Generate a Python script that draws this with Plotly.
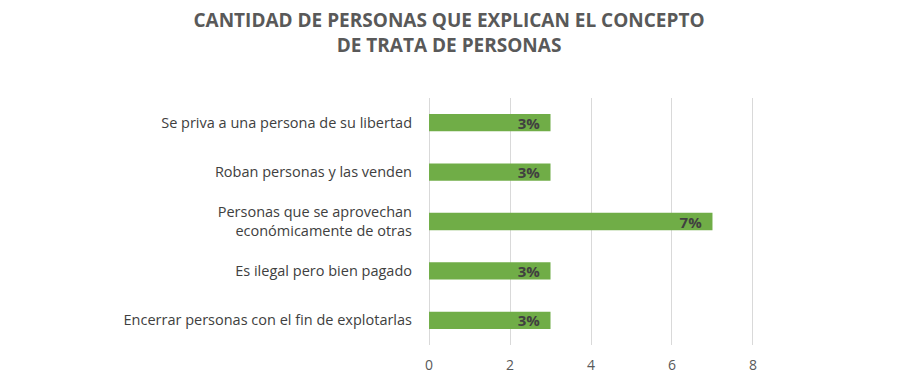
import plotly.graph_objects as go

categories = [
    "Se priva a una persona de su libertad",
    "Roban personas y las venden",
    "Personas que se aprovechan<br>económicamente de otras",
    "Es ilegal pero bien pagado",
    "Encerrar personas con el fin de explotarlas",
]
values = [3, 3, 7, 3, 3]
x_ticks = [0, 2, 4, 6, 8]

fig = go.Figure(go.Bar(
    y=categories,
    x=values,
    orientation="h",
    marker=dict(color="#70AD47", line=dict(width=0)),
    width=0.35,
    text=[f"{v}%\u00a0\u00a0" for v in values],
    textposition="inside",
    insidetextanchor="end",
    constraintext="none",
    textfont=dict(family="Open Sans", size=15, color="#404040", weight="bold"),
    textangle=0,
))

fig.update_layout(
    width=900, height=386,
    margin=dict(l=419, r=153, t=90, b=49, autoexpand=False),
    paper_bgcolor="white", plot_bgcolor="white",
    title=dict(
        text="CANTIDAD DE PERSONAS QUE EXPLICAN EL CONCEPTO<br>DE TRATA DE PERSONAS",
        x=0.49, xref="container", xanchor="center", y=0.95, yanchor="top",
        font=dict(family="Open Sans", size=19, color="#595959", weight="bold"),
    ),
    xaxis=dict(
        range=[-0.05, 8.05], tickvals=x_ticks, showgrid=True, gridcolor="#D9D9D9", gridwidth=1,
        zeroline=False, showline=False, ticks="", automargin=False,
        ticklabelstandoff=10,
        tickfont=dict(family="Open Sans", size=14, color="#595959"),
    ),
    yaxis=dict(
        autorange="reversed", showgrid=False, ticks="", showline=False,
        automargin=False, ticklabelstandoff=14,
        tickfont=dict(family="Open Sans", size=14.5, color="#404040"),
    ),
    showlegend=False,
)

fig.write_html("out.html")
